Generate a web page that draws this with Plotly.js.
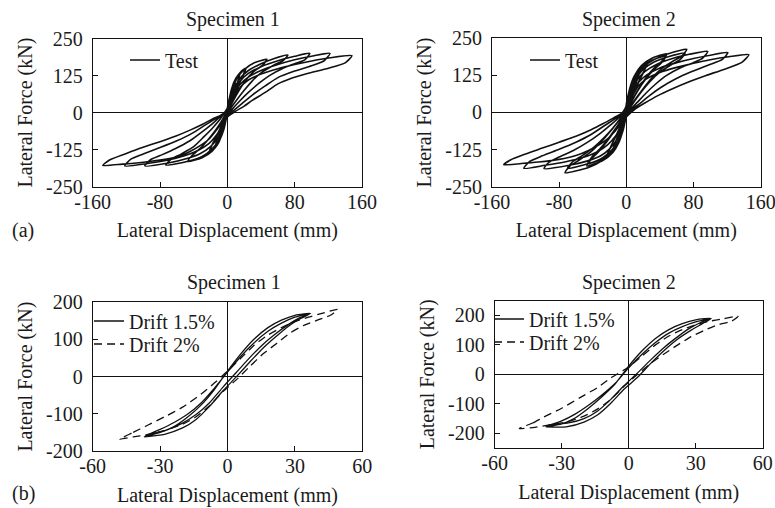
<!DOCTYPE html>
<html><head><meta charset="utf-8">
<script src="https://cdn.plot.ly/plotly-3.0.1.min.js"></script>
<style>html,body{margin:0;padding:0;background:#fff;}#chart{width:775px;height:508px;}</style>
</head><body><div id="chart"></div>
<script>
// ---------- tick labels ----------
const topXTicks = [-160, -80, 0, 80, 160];
const topXLabels = ["-160", "-80", "0", "80", "160"];
const topYTicks = [-250, -125, 0, 125, 250];
const topYLabels = ["-250", "-125", "0", "125", "250"];
const botXTicks = [-60, -30, 0, 30, 60];
const botXLabels = ["-60", "-30", "0", "30", "60"];
const botYTicks = [-200, -100, 0, 100, 200];
const botYLabels = ["-200", "-100", "0", "100", "200"];

// ---------- (a) Specimen 1 test loops [displacement mm, force kN] ----------
const s1Cycle0a = [[0,8],[3,45],[6,75],[10,98],[8,78],[5,48],[2,14],[0,-6],[-3,-42],[-6,-70],[-10,-92],[-8,-72],[-5,-44],[-2,-12],[0,8]];
const s1Cycle0b = [[0,12],[4,60],[8,95],[12,118],[15,130],[13,110],[9,80],[5,45],[1,8],[-3,-40],[-7,-78],[-11,-105],[-15,-120],[-13,-100],[-9,-70],[-5,-38],[-1,-5],[0,12]];
const s1Cycle1a = [[0,15],[5,80],[10,115],[16,138],[22,150],[19,125],[14,98],[9,65],[4,30],[0,0],[-4,-50],[-9,-90],[-15,-120],[-22,-137],[-19,-115],[-14,-88],[-9,-58],[-4,-28],[0,5]];
const s1Cycle1b = [[0,5],[5,72],[10,110],[16,134],[21,147],[18,120],[13,92],[8,58],[3,22],[0,-5],[-4,-55],[-9,-92],[-15,-118],[-21,-132],[-18,-108],[-13,-80],[-8,-50],[-3,-18],[0,10]];
const s1Cycle2 = [[0,10],[6,80],[12,118],[20,145],[32,168],[47,180],[42,160],[32,140],[22,110],[14,75],[7,40],[2,12],[0,-5],[-5,-60],[-10,-98],[-18,-130],[-30,-152],[-47,-165],[-42,-145],[-32,-120],[-22,-88],[-13,-55],[-6,-25],[0,10]];
const s1Cycle3 = [[0,10],[8,75],[15,115],[25,142],[40,165],[55,182],[72,194],[66,175],[55,160],[42,138],[30,108],[20,75],[10,38],[3,10],[0,-5],[-5,-55],[-10,-92],[-18,-122],[-30,-148],[-48,-165],[-73,-177],[-67,-158],[-55,-140],[-40,-115],[-28,-82],[-17,-50],[-8,-20],[0,15]];
const s1Cycle4 = [[0,15],[8,68],[15,105],[25,132],[40,155],[60,175],[80,190],[98,200],[92,178],[80,165],[65,148],[50,125],[38,100],[25,68],[15,40],[6,12],[0,-10],[-6,-52],[-12,-88],[-20,-115],[-32,-138],[-48,-155],[-70,-170],[-98,-180],[-92,-160],[-80,-145],[-62,-122],[-45,-96],[-30,-65],[-18,-38],[-8,-12],[0,10]];
const s1Cycle5 = [[0,10],[8,62],[15,95],[25,120],[40,142],[60,162],[80,178],[100,190],[122,200],[115,175],[100,158],[80,140],[60,118],[45,90],[30,60],[18,32],[8,8],[0,-12],[-6,-45],[-14,-80],[-22,-105],[-35,-128],[-50,-145],[-70,-160],[-95,-172],[-122,-180],[-115,-158],[-100,-140],[-80,-118],[-60,-95],[-42,-70],[-28,-45],[-15,-22],[-5,-5],[0,8]];
const s1Cycle6 = [[0,8],[8,55],[15,85],[25,110],[40,130],[60,148],[80,162],[100,174],[122,185],[148,192],[140,168],[120,150],[95,132],[77,117],[60,97],[45,68],[30,42],[20,22],[10,5],[0,-15],[-5,-30],[-14,-63],[-22,-90],[-30,-107],[-45,-132],[-57,-147],[-80,-160],[-105,-169],[-125,-174],[-148,-178],[-140,-160],[-120,-138],[-101,-118],[-80,-98],[-61,-79],[-45,-60],[-30,-40],[-18,-22],[-10,-12],[0,5]];

// ---------- (a) Specimen 2 test loops ----------
const s2Cycle0a = [[0,10],[3,50],[6,82],[10,105],[8,85],[5,55],[2,18],[0,-8],[-3,-45],[-6,-75],[-10,-98],[-8,-78],[-5,-48],[-2,-14],[0,10]];
const s2Cycle0b = [[0,14],[4,65],[8,100],[12,125],[16,140],[14,118],[10,88],[6,52],[2,12],[0,-10],[-4,-55],[-8,-90],[-12,-115],[-16,-130],[-14,-108],[-10,-78],[-6,-45],[-2,-10],[0,14]];
const s2Cycle1a = [[0,25],[4,80],[9,120],[16,150],[26,172],[22,145],[16,112],[10,75],[4,35],[0,5],[-4,-55],[-9,-98],[-16,-128],[-24,-150],[-20,-125],[-15,-95],[-9,-62],[-4,-30],[0,25]];
const s2Cycle1b = [[0,18],[4,72],[9,112],[16,144],[25,166],[21,138],[15,104],[9,66],[3,25],[0,-2],[-4,-60],[-9,-100],[-16,-126],[-23,-145],[-19,-118],[-14,-88],[-8,-52],[-3,-20],[0,18]];
const s2Cycle2a = [[0,28],[5,85],[10,125],[18,158],[30,182],[48,198],[43,175],[34,152],[24,120],[15,82],[7,42],[2,12],[0,-5],[-4,-60],[-9,-102],[-16,-135],[-28,-162],[-47,-180],[-42,-158],[-33,-132],[-23,-98],[-14,-62],[-6,-28],[0,20]];
const s2Cycle2b = [[0,20],[5,78],[10,118],[18,150],[30,175],[47,190],[42,168],[33,145],[23,112],[14,75],[6,35],[1,5],[0,-10],[-4,-62],[-9,-100],[-16,-130],[-28,-156],[-46,-173],[-41,-150],[-32,-124],[-22,-90],[-13,-55],[-5,-20],[0,25]];
const s2Cycle3a = [[0,25],[6,80],[12,122],[20,152],[33,178],[50,198],[72,213],[66,190],[55,172],[42,148],[30,115],[20,80],[10,42],[3,12],[0,-8],[-5,-58],[-10,-98],[-17,-130],[-28,-160],[-45,-185],[-73,-203],[-67,-180],[-56,-160],[-42,-132],[-29,-96],[-18,-60],[-8,-24],[0,22]];
const s2Cycle3b = [[0,22],[6,75],[12,115],[20,145],[33,170],[50,188],[70,200],[64,178],[53,160],[40,136],[28,104],[18,70],[9,35],[2,5],[0,-12],[-5,-60],[-10,-96],[-17,-126],[-28,-152],[-45,-172],[-70,-188],[-64,-166],[-53,-146],[-40,-120],[-27,-86],[-16,-52],[-7,-18],[0,22]];
const s2Cycle4 = [[0,22],[7,72],[13,110],[22,138],[36,162],[55,182],[75,196],[97,206],[91,183],[80,168],[64,150],[48,125],[35,96],[23,64],[13,34],[5,10],[0,-10],[-5,-52],[-11,-90],[-19,-120],[-30,-145],[-46,-163],[-68,-178],[-98,-189],[-92,-167],[-80,-150],[-63,-128],[-46,-100],[-31,-70],[-18,-40],[-8,-14],[0,20]];
const s2Cycle5 = [[0,20],[7,65],[14,100],[24,126],[40,150],[60,168],[80,182],[100,193],[121,202],[114,178],[98,160],[78,138],[58,112],[42,86],[28,58],[16,30],[6,8],[0,-12],[-6,-45],[-13,-80],[-22,-108],[-35,-133],[-52,-152],[-72,-166],[-97,-178],[-122,-188],[-115,-165],[-100,-146],[-80,-124],[-60,-100],[-42,-74],[-28,-48],[-15,-24],[-5,-5],[0,18]];
const s2Cycle6 = [[0,18],[8,60],[15,92],[25,115],[40,135],[60,152],[80,166],[100,178],[122,188],[146,195],[138,170],[117,146],[95,125],[77,106],[55,80],[37,56],[22,32],[12,15],[0,-15],[-6,-35],[-14,-65],[-22,-88],[-32,-108],[-45,-128],[-60,-145],[-80,-158],[-105,-167],[-125,-172],[-146,-176],[-138,-160],[-120,-140],[-100,-120],[-80,-100],[-60,-80],[-42,-58],[-28,-38],[-15,-18],[-5,-2],[0,10]];

// ---------- (b) Specimen 1 model loops ----------
const b1Drift15a = [[-36,-158],[-30,-142],[-24,-124],[-18,-102],[-12,-72],[-6,-32],[0,12],[6,55],[12,92],[18,122],[24,144],[30,160],[36,169],[32,158],[27,140],[22,118],[16,88],[10,52],[4,12],[-2,-28],[-8,-70],[-14,-102],[-20,-125],[-27,-143],[-36,-158]];
const b1Drift15b = [[-37,-162],[-30,-150],[-24,-135],[-18,-110],[-12,-78],[-6,-36],[0,15],[6,62],[12,102],[18,132],[24,152],[30,165],[37,170],[32,155],[27,135],[22,110],[16,78],[10,40],[4,0],[-2,-38],[-8,-80],[-14,-115],[-20,-138],[-28,-155],[-37,-162]];
const b1Drift2 = [[-48,-168],[-42,-150],[-36,-132],[-28,-108],[-20,-82],[-12,-48],[-6,-18],[0,15],[6,50],[12,85],[18,112],[24,132],[30,148],[36,160],[42,170],[49,181],[46,166],[40,152],[34,138],[28,118],[22,90],[16,62],[10,28],[4,-8],[-2,-40],[-8,-78],[-14,-108],[-20,-128],[-28,-145],[-36,-156],[-42,-162],[-48,-168]];

// ---------- (b) Specimen 2 model loops ----------
const b2Drift15a = [[-36,-173],[-30,-158],[-24,-135],[-18,-105],[-12,-70],[-6,-30],[0,22],[6,68],[12,108],[18,140],[24,162],[30,178],[36,188],[32,175],[27,155],[22,128],[16,92],[10,50],[4,5],[-2,-38],[-8,-85],[-14,-125],[-20,-150],[-27,-165],[-36,-173]];
const b2Drift15b = [[-37,-178],[-30,-168],[-24,-148],[-18,-115],[-12,-76],[-6,-32],[0,28],[6,80],[12,122],[18,152],[24,172],[30,185],[37,190],[33,172],[28,150],[22,120],[16,82],[10,38],[4,-10],[-2,-50],[-8,-98],[-14,-138],[-20,-162],[-28,-178],[-37,-178]];
const b2Drift2 = [[-49,-184],[-43,-165],[-38,-145],[-30,-115],[-22,-80],[-14,-45],[-8,-12],[0,25],[6,62],[12,100],[18,130],[24,152],[30,168],[36,180],[42,188],[49,197],[46,180],[40,168],[34,150],[28,128],[22,100],[16,70],[10,38],[4,0],[-2,-40],[-8,-85],[-14,-118],[-20,-142],[-28,-162],[-36,-172],[-42,-180],[-49,-184]];

// ---------- helpers ----------
function joinLoops(list){ return list.reduce((a,b)=>a.concat(b),[]); }
function xs(arr){ return arr.map(p=>p[0]); }
function ys(arr){ return arr.map(p=>p[1]); }

const FONT = 'Liberation Serif, Times New Roman, serif';
const INK = '#1a1a1a';

const s1Test = joinLoops([s1Cycle0a,s1Cycle0b,s1Cycle1a,s1Cycle1b,s1Cycle2,s1Cycle3,s1Cycle4,s1Cycle5,s1Cycle6]);
const s2Test = joinLoops([s2Cycle0a,s2Cycle0b,s2Cycle1a,s2Cycle1b,s2Cycle2a,s2Cycle2b,s2Cycle3a,s2Cycle3b,s2Cycle4,s2Cycle5,s2Cycle6]);
const b1Solid = joinLoops([b1Drift15a,b1Drift15b]);
const b2Solid = joinLoops([b2Drift15a,b2Drift15b]);

const topLine = {color:'#111', width:1.6, shape:'spline', smoothing:0.6};
const solidLine = {color:'#111', width:1.3, shape:'spline', smoothing:0.6};
const dashLine = {color:'#111', width:1.3, dash:'8px,5px', shape:'spline', smoothing:0.6};

const traces = [
  {type:'scatter', mode:'lines', x:xs(s1Test), y:ys(s1Test), xaxis:'x', yaxis:'y', name:'Test', legend:'legend', line:topLine},
  {type:'scatter', mode:'lines', x:xs(s2Test), y:ys(s2Test), xaxis:'x2', yaxis:'y2', name:'Test', legend:'legend2', line:topLine},
  {type:'scatter', mode:'lines', x:xs(b1Solid), y:ys(b1Solid), xaxis:'x3', yaxis:'y3', name:'Drift 1.5%', legend:'legend3', line:solidLine},
  {type:'scatter', mode:'lines', x:xs(b1Drift2), y:ys(b1Drift2), xaxis:'x3', yaxis:'y3', name:'Drift 2%', legend:'legend4', line:dashLine},
  {type:'scatter', mode:'lines', x:xs(b2Solid), y:ys(b2Solid), xaxis:'x4', yaxis:'y4', name:'Drift 1.5%', legend:'legend5', line:solidLine},
  {type:'scatter', mode:'lines', x:xs(b2Drift2), y:ys(b2Drift2), xaxis:'x4', yaxis:'y4', name:'Drift 2%', legend:'legend6', line:dashLine}
];

function xAxis(domain, range, vals, texts, anchor){
  return {domain:domain, range:range, tickmode:'array', tickvals:vals, ticktext:texts, anchor:anchor,
    ticks:'inside', ticklen:5, tickwidth:1, tickcolor:'#111', showline:true, mirror:true, linecolor:'#111', linewidth:1,
    showgrid:false, zeroline:true, zerolinecolor:'#111', zerolinewidth:1, fixedrange:true,
    ticklabeloverflow:'allow', ticklabelstandoff:-3,
    tickfont:{family:FONT, size:20, color:INK},
    title:{text:'Lateral Displacement (mm)', font:{family:FONT, size:20, color:INK}, standoff:11}};
}
function yAxis(domain, range, vals, texts, anchor){
  return {domain:domain, range:range, tickmode:'array', tickvals:vals, ticktext:texts, anchor:anchor,
    ticks:'inside', ticklen:5, tickwidth:1, tickcolor:'#111', showline:true, mirror:true, linecolor:'#111', linewidth:1,
    showgrid:false, zeroline:true, zerolinecolor:'#111', zerolinewidth:1, fixedrange:true,
    ticklabeloverflow:'allow', tickfont:{family:FONT, size:20, color:INK}, ticklabelstandoff:5,
    title:{text:'Lateral Force (kN)', font:{family:FONT, size:20, color:INK}, standoff:8}};
}
function legendAt(x, y){
  return {x:x, y:y, xanchor:'left', yanchor:'middle', bgcolor:'rgba(0,0,0,0)', borderwidth:0,
    font:{family:FONT, size:20, color:INK}, itemwidth:30};
}
function label(text, x, y){
  return {text:text, x:x/775, y:1-y/508, xref:'paper', yref:'paper', showarrow:false,
    xanchor:'center', yanchor:'middle', font:{family:FONT, size:20, color:INK}};
}

const layout = {
  width:775, height:508, margin:{l:0, r:0, t:0, b:0}, paper_bgcolor:'#fff', plot_bgcolor:'#fff', showlegend:true,
  xaxis: xAxis([0.1196,0.4671], [-160,160], topXTicks, topXLabels, 'y'),
  yaxis: yAxis([0.6325,0.9242], [-250,250], topYTicks, topYLabels, 'x'),
  xaxis2: xAxis([0.6348,0.9815], [-160,160], topXTicks, topXLabels, 'y2'),
  yaxis2: yAxis([0.6325,0.9246], [-250,250], topYTicks, topYLabels, 'x2'),
  xaxis3: xAxis([0.1196,0.4675], [-60,60], botXTicks, botXLabels, 'y3'),
  yaxis3: yAxis([0.1122,0.4049], [-200,200], botYTicks, botYLabels, 'x3'),
  xaxis4: xAxis([0.6383,0.9841], [-60,60], botXTicks, botXLabels, 'y4'),
  yaxis4: yAxis([0.1181,0.4081], [-250,250], botYTicks, botYLabels, 'x4'),
  legend: legendAt(125/775, 1-60/508),
  legend2: legendAt(525/775, 1-60/508),
  legend3: legendAt(89/775, 1-321/508),
  legend4: legendAt(89/775, 1-344/508),
  legend5: legendAt(489/775, 1-319/508),
  legend6: legendAt(489/775, 1-342/508),
  annotations: [
    label('Specimen 1', 233, 19), label('Specimen 2', 629, 19),
    label('Specimen 1', 234, 282), label('Specimen 2', 629, 282),
    label('(a)', 23, 230), label('(b)', 23, 493)
  ]
};

Plotly.newPlot('chart', traces, layout, {displayModeBar:false, staticPlot:true});
</script>
</body></html>
